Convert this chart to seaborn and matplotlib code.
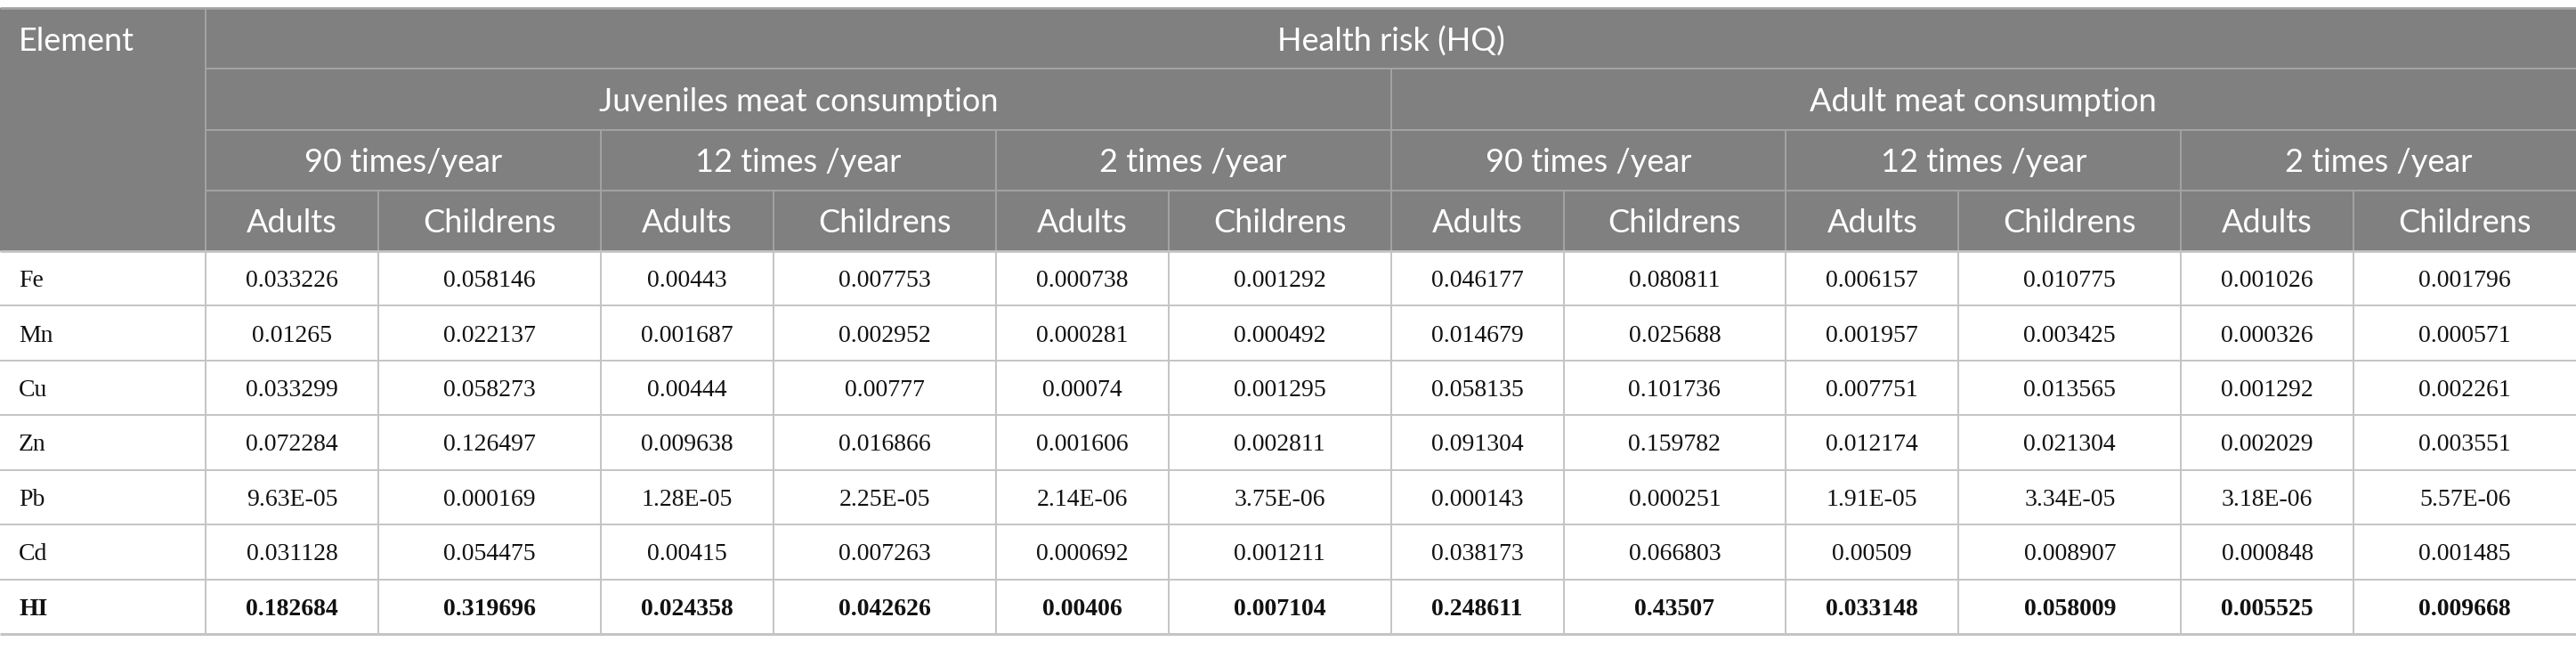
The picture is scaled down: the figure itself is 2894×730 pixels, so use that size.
import numpy as np
import matplotlib
matplotlib.use("Agg")
import matplotlib.pyplot as plt
from matplotlib.patches import Rectangle
import seaborn as sns

# table content
elements = ["Fe", "Mn", "Cu", "Zn", "Pb", "Cd", "HI"]
top_header = "Health risk (HQ)"
groups = ["Juveniles meat consumption", "Adult meat consumption"]
freqs = ["90 times/year", "12 times /year", "2 times /year",
         "90 times /year", "12 times /year", "2 times /year"]
people = ["Adults", "Childrens"]

row_fe = ["0.033226", "0.058146", "0.00443", "0.007753", "0.000738", "0.001292",
          "0.046177", "0.080811", "0.006157", "0.010775", "0.001026", "0.001796"]
row_mn = ["0.01265", "0.022137", "0.001687", "0.002952", "0.000281", "0.000492",
          "0.014679", "0.025688", "0.001957", "0.003425", "0.000326", "0.000571"]
row_cu = ["0.033299", "0.058273", "0.00444", "0.00777", "0.00074", "0.001295",
          "0.058135", "0.101736", "0.007751", "0.013565", "0.001292", "0.002261"]
row_zn = ["0.072284", "0.126497", "0.009638", "0.016866", "0.001606", "0.002811",
          "0.091304", "0.159782", "0.012174", "0.021304", "0.002029", "0.003551"]
row_pb = ["9.63E-05", "0.000169", "1.28E-05", "2.25E-05", "2.14E-06", "3.75E-06",
          "0.000143", "0.000251", "1.91E-05", "3.34E-05", "3.18E-06", "5.57E-06"]
row_cd = ["0.031128", "0.054475", "0.00415", "0.007263", "0.000692", "0.001211",
          "0.038173", "0.066803", "0.00509", "0.008907", "0.000848", "0.001485"]
row_hi = ["0.182684", "0.319696", "0.024358", "0.042626", "0.00406", "0.007104",
          "0.248611", "0.43507", "0.033148", "0.058009", "0.005525", "0.009668"]
values = [row_fe, row_mn, row_cu, row_zn, row_pb, row_cd, row_hi]

sns.set_theme(style="white")
HEAD_FONT = ["Lato", "DejaVu Sans"]
BODY_FONT = ["Liberation Serif", "DejaVu Serif"]

W, H = 2894, 730
fig = plt.figure(figsize=(W / 100, H / 100), dpi=100)
ax = fig.add_axes([0, 0, 1, 1])
ax.set_xlim(0, W)
ax.set_ylim(H, 0)
ax.axis("off")

head_bg = "#7f807f"
head_line = "#a3a3a3"
body_line = "#c4c4c4"
lw = 1.4

# geometry (pixels)
widths = [231] + [194, 249.8] * 6
xs = np.concatenate([[0], np.cumsum(widths)])
xs = xs * W / xs[-1]
y_top = 9
head_h = 68.25
yh = [y_top + i * head_h for i in range(5)]
body_top = yh[-1]
body_bot = 712
row_h = (body_bot - body_top) / len(elements)
yb = [body_top + i * row_h for i in range(len(elements) + 1)]

# header background
ax.add_patch(Rectangle((0, y_top), W, body_top - y_top, color=head_bg, lw=0, zorder=0))

def hline(y, x0, x1, c, w=lw):
    ax.plot([x0, x1], [y, y], color=c, lw=w, solid_capstyle="butt", zorder=2)

def vline(x, y0, y1, c, w=lw):
    ax.plot([x, x], [y0, y1], color=c, lw=w, solid_capstyle="butt", zorder=2)

# header grid
hline(y_top, 0, W, head_line, 2)
for y in yh[1:4]:
    hline(y, xs[1], W, head_line)
vline(xs[1], y_top, body_top, head_line)
vline(xs[7], yh[1], body_top, head_line)
for k in range(1, 13, 2):
    vline(xs[k], yh[2], body_top, head_line)
for k in range(2, 13, 2):
    vline(xs[k], yh[3], body_top, head_line)

def htext(x, y, s, ha="center"):
    ax.text(x, y, s, ha=ha, va="center_baseline", color="white",
            fontsize=26, family=HEAD_FONT, fontweight="normal", zorder=3)

htext(21, (yh[0] + yh[1]) / 2, "Element", ha="left")
htext((xs[1] + xs[13]) / 2, (yh[0] + yh[1]) / 2, top_header)
for g, name in enumerate(groups):
    htext((xs[1 + 6 * g] + xs[7 + 6 * g]) / 2, (yh[1] + yh[2]) / 2, name)
for f, name in enumerate(freqs):
    htext((xs[1 + 2 * f] + xs[3 + 2 * f]) / 2, (yh[2] + yh[3]) / 2, name)
for k in range(12):
    htext((xs[1 + k] + xs[2 + k]) / 2, (yh[3] + yh[4]) / 2, people[k % 2])

# body grid
for y in yb[1:-1]:
    hline(y, 0, W, body_line)
hline(body_top, 0, W, body_line, 2)
hline(body_bot, 0, W, body_line, 2.2)
for k in range(1, 13):
    vline(xs[k], body_top, body_bot, body_line)

# body text
for i, el in enumerate(elements):
    yc = (yb[i] + yb[i + 1]) / 2
    bold = "bold" if el == "HI" else "normal"
    ax.text(21, yc, el, ha="left", va="center_baseline", fontsize=20,
            family=BODY_FONT, fontweight=bold, color="#111111", zorder=3)
    for k, v in enumerate(values[i]):
        ax.text((xs[1 + k] + xs[2 + k]) / 2, yc, v, ha="center", va="center_baseline",
                fontsize=20, family=BODY_FONT, fontweight=bold, color="#111111", zorder=3)

fig.savefig("out.png", dpi=100, facecolor="white")
